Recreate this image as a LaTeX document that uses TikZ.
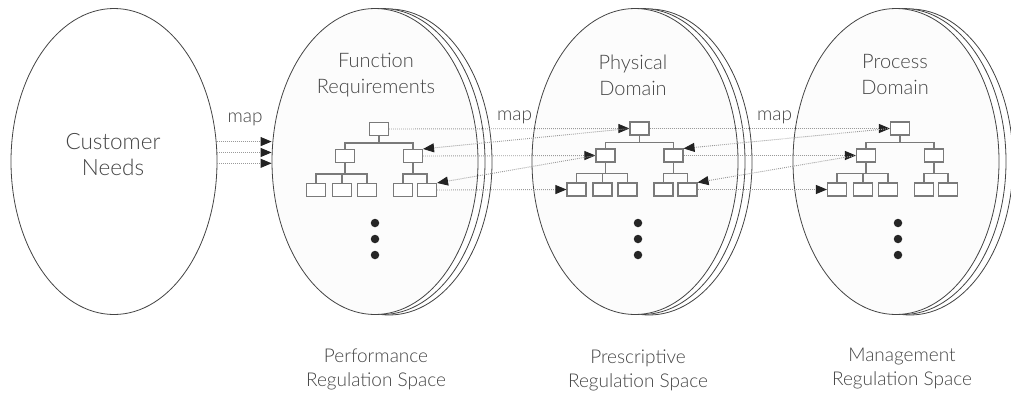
\documentclass[tikz,border=0pt]{standalone}
\usepackage{fontspec}
\setmainfont{Lato}[UprightFont={* Light}]
\usetikzlibrary{shapes.geometric,arrows.meta,calc}
\definecolor{txt}{HTML}{454545}
\definecolor{edge}{HTML}{444444}
\definecolor{boxc}{HTML}{7A7A7A}
\definecolor{dotc}{HTML}{9A9A9A}
\definecolor{tipc}{HTML}{222222}
\definecolor{fillc}{HTML}{FCFCFC}
\begin{document}
\begin{tikzpicture}[x=1pt,y=-1pt,
  domshape/.style={ellipse, draw=edge, line width=0.8pt, inner sep=0pt, minimum width=206, minimum height=306},
  titletext/.style={text=txt, font=\fontsize{20}{26}\selectfont, align=center, inner sep=0pt},
  bigtitle/.style={titletext, font=\fontsize{22.5}{26}\selectfont},
  subtext/.style={text=txt, font=\fontsize{19}{24}\selectfont, align=center, inner sep=0pt},
  maplbl/.style={text=txt, font=\fontsize{19}{24}\selectfont, inner sep=0pt},
  tbox/.style={draw=boxc, line width=1.1pt, fill=white, minimum width=19, minimum height=13, inner sep=0pt},
  tline/.style={draw=boxc, line width=1.1pt},
  mapline/.style={draw=dotc, line width=0.9pt, dash pattern=on 0.9pt off 1.1pt, -{Triangle[length=11pt,width=9pt,color=tipc]}},
  bigdot/.style={circle, fill=black!85, inner sep=0pt, minimum size=8.5}
]
\useasboundingbox (0,0) rectangle (1011,394);

% stacked back ellipses
\foreach \n/\cx in {F/375,P/635,X/896}{
  \node[domshape, fill=white] (\n-b2) at (\cx+14,162) {};
  \node[domshape, fill=white] (\n-b1) at (\cx+7,161.5) {};
}
% front ellipses
\node[domshape, fill=white] (C) at (114,161.5) {};
\node[domshape, fill=fillc] (F) at (375,161.5) {};
\node[domshape, fill=fillc] (P) at (635,161.5) {};
\node[domshape, fill=fillc] (X) at (896,161.5) {};

% titles
\node[bigtitle] (C-title) at (113,155) {Customer\\Needs};
\node[titletext] (F-title) at (376,75) {Function\\Requirements};
\node[titletext] (P-title) at (633,75) {Physical\\Domain};
\node[titletext] (X-title) at (895,75) {Process\\Domain};

% bottom labels
\node[subtext] (F-sub) at (376,369) {Performance\\Regulation Space};
\node[subtext] (P-sub) at (638,370) {Prescriptive\\Regulation Space};
\node[subtext] (X-sub) at (902,369) {Management\\Regulation Space};

% map labels
\node[maplbl] (map1) at (245,119) {map};
\node[maplbl] (map2) at (514.5,117) {map};
\node[maplbl] (map3) at (774.5,117) {map};

% trees
\foreach \n/\cx/\cy/\dx in {F/379/129/375, P/639.5/128.5/638, X/900/128.5/898}{
  \begin{scope}[shift={(\cx,\cy)}]
    \node[tbox] (\n-t) at (0,0) {};
    \node[tbox] (\n-m1) at (-34,27) {};
    \node[tbox] (\n-m2) at (34,27) {};
    \node[tbox] (\n-l1) at (-63,61) {};
    \node[tbox] (\n-l2) at (-37,61) {};
    \node[tbox] (\n-l3) at (-12,61) {};
    \node[tbox] (\n-l4) at (24,61) {};
    \node[tbox] (\n-l5) at (48,61) {};
    \coordinate (\n-bus1) at (0,14);
    \coordinate (\n-bus2) at (-34,45);
    \coordinate (\n-bus3) at (34,45);
    \draw[tline] (\n-t.south) -- (\n-bus1);
    \draw[tline] (\n-m1.north) |- (\n-bus1) -| (\n-m2.north);
    \draw[tline] (\n-m1.south) -- (\n-bus2);
    \draw[tline] (\n-l1.north) |- (\n-l3.north |- \n-bus2) -- (\n-l3.north);
    \draw[tline] (\n-l2.north) -- (\n-l2.north |- \n-bus2);
    \draw[tline] (\n-m2.south) -- (\n-bus3);
    \draw[tline] (\n-l4.north) |- (\n-l5.north |- \n-bus3) -- (\n-l5.north);
  \end{scope}
  \node[bigdot] (\n-d1) at (\dx,223) {};
  \node[bigdot] (\n-d2) at (\dx,239) {};
  \node[bigdot] (\n-d3) at (\dx,255) {};
}

% customer -> function
\draw[mapline] (C.11) -- (C.11 -| F.west);
\draw[mapline] (C.5) -- (C.5 -| F.west);
\draw[mapline] (C.-1) -- (C.-1 -| F.west);

% function <-> physical
\draw[mapline] (F-t.east) -- (P-t.west);
\draw[mapline] (P-t.west) -- (F-m2.north east);
\draw[mapline] (F-m2.east) -- (P-m1.west);
\draw[mapline] (P-m1.west) -- (F-l5.north east);
\draw[mapline] (F-l5.east) -- (P-l1.west);

% physical <-> process
\draw[mapline] (P-t.east) -- (X-t.west);
\draw[mapline] (X-t.west) -- (P-m2.north east);
\draw[mapline] (P-m2.east) -- (X-m1.west);
\draw[mapline] (X-m1.west) -- (P-l5.north east);
\draw[mapline] (P-l5.east) -- (X-l1.west);
\end{tikzpicture}
\end{document}
